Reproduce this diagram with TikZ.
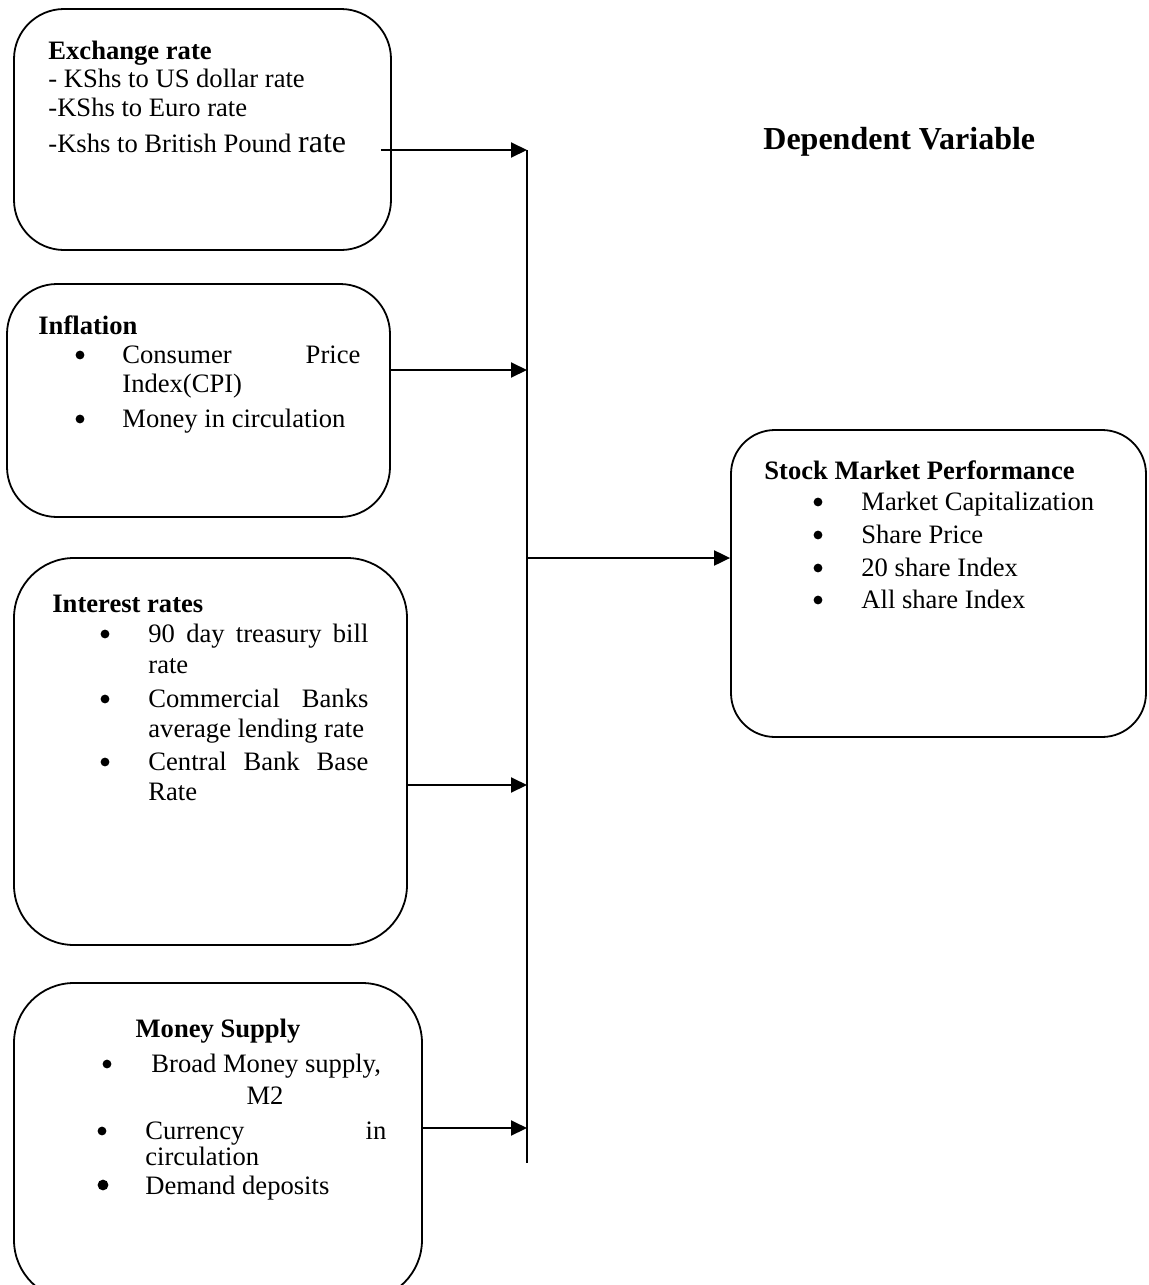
\documentclass[tikz,border=0pt]{standalone}
\usepackage{fontspec}
\setmainfont{Liberation Serif}
\usetikzlibrary{arrows.meta,fit}
\begin{document}
\begin{tikzpicture}[x=0.5pt,y=-0.5pt,
  box/.style={draw, line width=0.9pt, inner sep=0pt},
  conn/.style={line width=1pt},
  arr/.style={line width=1pt, -{Triangle[length=8pt,width=7.5pt]}},
  txt/.style={anchor=base west, inner sep=0pt, font=\fontsize{13.3}{15.5}\selectfont},
  ttl/.style={anchor=base west, inner sep=0pt, font=\fontsize{13.3}{15.5}\selectfont\bfseries},
  bul/.style={anchor=base, inner sep=0pt, font=\fontsize{13.3}{15.5}\selectfont},
  dot/.style={circle, fill, inner sep=0pt, minimum size=4.4pt},
]
\useasboundingbox (0,0) rectangle (1149,1285);
\clip (0,0) rectangle (1149,1285);

% boxes
\node[box, rounded corners=25pt, fit={(14,9) (391,250)}] (b1) {};
\node[box, rounded corners=25pt, fit={(7,284) (390,517)}] (b2) {};
\node[box, rounded corners=30pt, fit={(14,558) (407,945)}] (b3) {};
\node[box, rounded corners=30pt, fit={(14,983) (422,1300)}] (b4) {};
\node[box, rounded corners=22pt, fit={(731,430) (1146,737)}] (s) {};

% heading
\node[anchor=base west, inner sep=0pt, font=\fontsize{16}{18}\selectfont\bfseries] (dv) at (763,149) {Dependent Variable};

% box 1 text
\node[ttl] (t1) at (48,59) {Exchange rate};
\node[txt] (t1a) at (48,87) {- KShs to US dollar rate};
\node[txt] (t1b) at (48,116) {-KShs to Euro rate};
\node[txt] (t1c) at (48,152) {-Kshs to British Pound {\fontsize{16}{18}\selectfont rate}};

% box 2 text
\node[ttl] (t2) at (38,334) {Inflation};
\node[dot] (p2a) at (80,355) {};
\node[txt] (t2a) at (122,363) {\makebox[119pt][l]{Consumer\hfill Price}};
\node[txt] (t2b) at (122,392) {Index(CPI)};
\node[dot] (p2c) at (80,419) {};
\node[txt] (t2c) at (122,427) {Money in circulation};

% box 3 text
\node[ttl] (t3) at (52,612) {Interest rates};
\node[dot] (p3a) at (105,634) {};
\node[txt] (t3a) at (148,642) {\makebox[110pt][l]{90\hfill day\hfill treasury\hfill bill}};
\node[txt] (t3b) at (148,673) {rate};
\node[dot] (p3c) at (105,699) {};
\node[txt] (t3c) at (148,707) {\makebox[110pt][l]{Commercial\hfill Banks}};
\node[txt] (t3d) at (148,737) {average lending rate};
\node[dot] (p3e) at (105,762) {};
\node[txt] (t3e) at (148,770) {\makebox[110pt][l]{Central\hfill Bank\hfill Base}};
\node[txt] (t3f) at (148,800) {Rate};

% box 4 text
\node[anchor=base, inner sep=0pt, font=\fontsize{13.3}{15.5}\selectfont\bfseries] (t4) at (218,1037) {Money Supply};
\node[dot] (p4a) at (107,1064) {};
\node[txt] (t4a) at (151,1072) {Broad Money supply,};
\node[bul] (t4b) at (265,1104) {M2};
\node[dot] (p4c) at (102,1131) {};
\node[txt] (t4c) at (145,1139) {\makebox[120.5pt][l]{Currency\hfill in}};
\node[txt] (t4d) at (145,1165) {circulation};
\node[dot, minimum size=5.4pt] (p4e) at (103,1185) {};
\node[txt] (t4e) at (145,1194) {Demand deposits};

% stock box text
\node[ttl] (ts) at (764,479) {Stock Market Performance};
\node[dot] (psa) at (818,502) {};
\node[txt] (tsa) at (861,510) {Market Capitalization};
\node[dot] (psb) at (818,535) {};
\node[txt] (tsb) at (861,543) {Share Price};
\node[dot] (psc) at (818,568) {};
\node[txt] (tsc) at (861,576) {20 share Index};
\node[dot] (psd) at (818,600) {};
\node[txt] (tsd) at (861,608) {All share Index};

% connectors
\coordinate (j1) at (527,150);
\coordinate (j2) at (527,370);
\coordinate (js) at (527,558);
\coordinate (j3) at (527,785);
\coordinate (j4) at (527,1128);
\coordinate (jend) at (527,1163);

\draw[conn] (j1) -- (jend);
\draw[arr] ([xshift=-5.5pt]b1.east |- j1) -- (j1);
\draw[arr] (b2.east |- j2) -- (j2);
\draw[arr] (b3.east |- j3) -- (j3);
\draw[arr] (b4.east |- j4) -- (j4);
\draw[arr] (js) -- (s.west |- js);
\end{tikzpicture}
\end{document}
